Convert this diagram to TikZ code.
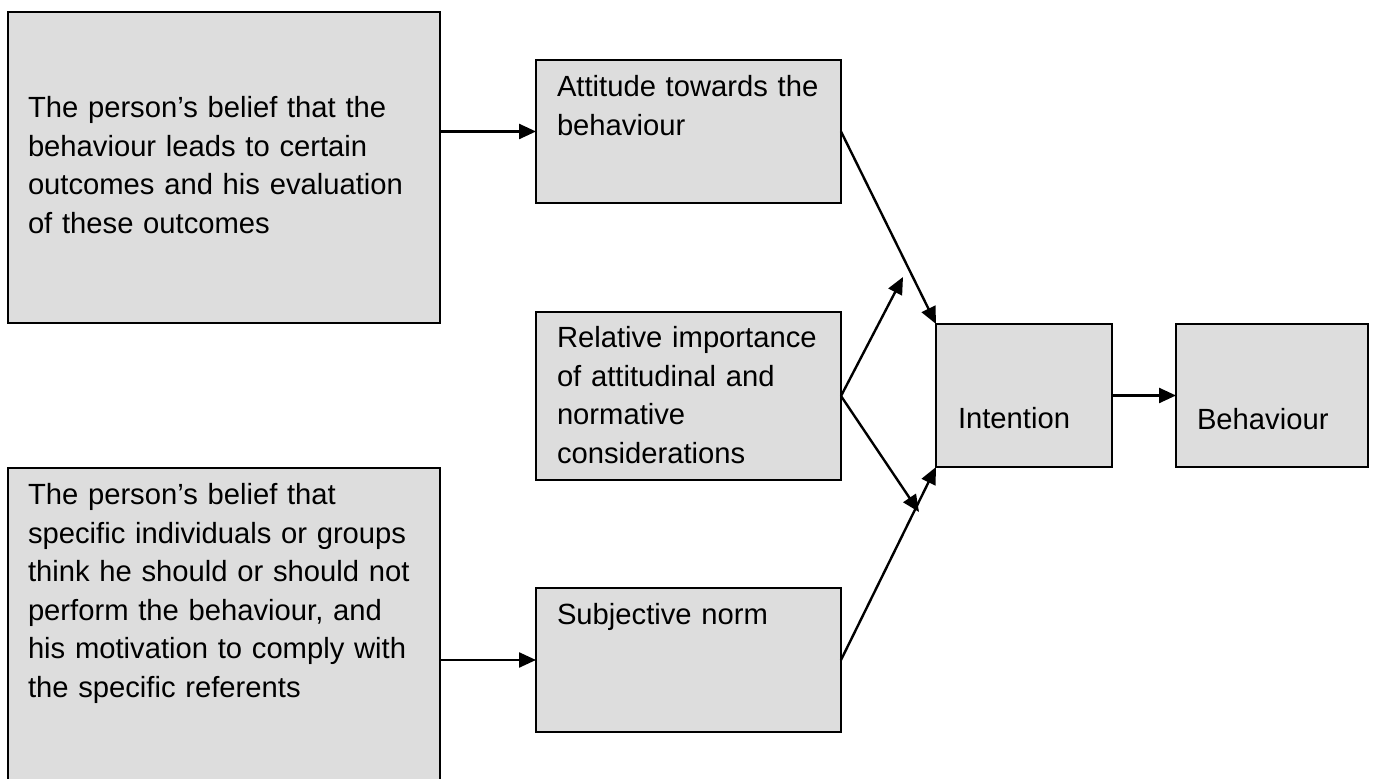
\documentclass[tikz,border=0pt]{standalone}
\usepackage{fontspec}
\setmainfont{Liberation Sans}
\usetikzlibrary{arrows.meta,calc}
\definecolor{boxgray}{HTML}{DDDDDD}
\tikzset{
  box/.style={draw=black, fill=boxgray, line width=1pt, inner sep=0pt, outer sep=0pt, rectangle},
  txt/.style={anchor=base west, inner sep=0pt, outer sep=0pt, align=left,
    font=\fontsize{14.6}{19.25}\selectfont},
  conn/.style={line width=1.2pt, -{Triangle[length=8.5pt,width=7.5pt]}}
}
\begin{document}
\begin{tikzpicture}[x=0.5pt,y=-0.5pt]
\clip (0,0) rectangle (1376,779);
\fill[white] (0,0) rectangle (1376,779);
% boxes
\node[box, minimum width=216pt, minimum height=155.5pt] (A) at (224,167.5) {};
\node[box, minimum width=216pt, minimum height=161pt] (B) at (224,629) {};
\node[box, minimum width=152.5pt, minimum height=71.5pt] (C) at (688.5,131.5) {};
\node[box, minimum width=152.5pt, minimum height=84pt] (D) at (688.5,396) {};
\node[box, minimum width=152.5pt, minimum height=72pt] (E) at (688.5,660) {};
\node[box, minimum width=88pt, minimum height=71.5pt] (F) at (1024,395.5) {};
\node[box, minimum width=96pt, minimum height=71.5pt] (G) at (1272,395.5) {};
% texts
\node[txt, text width=210pt] (tA) at ($(A.north west)+(20,106)$)
  {The person’s belief that the\\behaviour leads to certain\\outcomes and his evaluation\\of these outcomes};
\node[txt, text width=210pt] (tB) at ($(B.north west)+(20,37)$)
  {The person’s belief that\\specific individuals or groups\\think he should or should not\\perform the behaviour, and\\his motivation to comply with\\the specific referents};
\node[txt, text width=145pt] (tC) at ($(C.north west)+(21,37)$)
  {Attitude towards the\\behaviour};
\node[txt, text width=145pt] (tD) at ($(D.north west)+(21,36)$)
  {Relative importance\\of attitudinal and\\normative\\considerations};
\node[txt, text width=145pt] (tE) at ($(E.north west)+(21,37)$)
  {Subjective norm};
\node[txt, text width=80pt] (tF) at ($(F.north west)+(22,105)$) {Intention};
\node[txt, text width=90pt] (tG) at ($(G.north west)+(21,106)$) {Behaviour};
% free ends
\coordinate (up) at (903,277);
\coordinate (dn) at (919,512);
% connectors
\draw[conn] (A.east |- C.west) -- (C.west);
\draw[conn] (B.east |- E.west) -- (E.west);
\draw[conn] (F.east) -- (G.west);
\draw[conn] (C.east) -- (F.north west);
\draw[conn] (E.east) -- (F.south west);
\draw[conn] (D.east) -- (up);
\draw[conn] (D.east) -- (dn);
\end{tikzpicture}
\end{document}
